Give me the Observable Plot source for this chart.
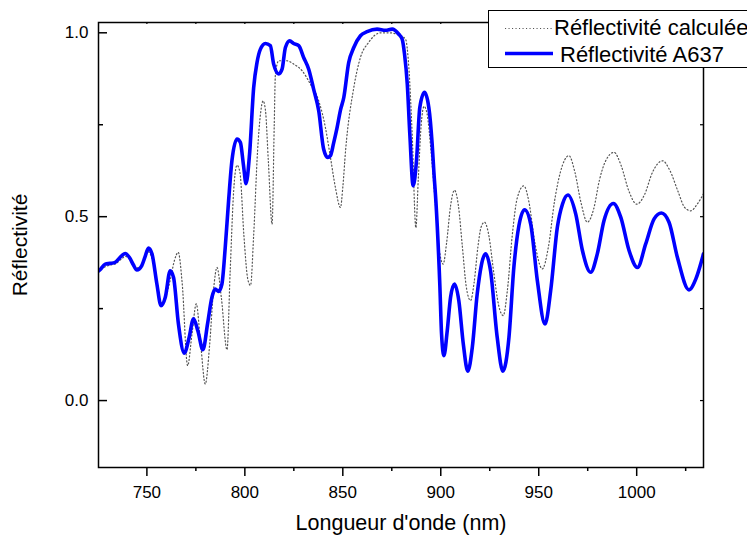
<!DOCTYPE html>
<html><head><meta charset="utf-8">
<script src="https://cdn.jsdelivr.net/npm/d3@7"></script>
<script src="https://cdn.jsdelivr.net/npm/@observablehq/plot@0.6"></script>
<style>
html,body{margin:0;padding:0;background:#fff;overflow:hidden;width:747px;height:537px}
#wrap{position:relative;width:747px;height:537px}
#legend{position:absolute;left:488px;top:10px;width:290px;height:56px;border:1px solid #000;background:#fff;}
g[aria-label="x-axis label"]{font-size:21.5px}
g[aria-label="y-axis label"]{font-size:21px}
</style></head><body><div id="wrap"><div id="chart"></div><div id="legend"></div></div>
<script>
// Measured reflectivity (A637)
const wavelengthA637 = [725.3,726,728.7,731.2,733.8,737.2,738.9,741.1,743,744.9,747.4,749,750.8,752.6,755.1,757.2,759.4,761.9,763.6,766.1,769.1,771.5,773.8,776,778.6,781,783.2,784.9,786.6,788.3,790,791.7,793.4,796,797.7,799.3,800.6,802.4,804.5,806.2,807.9,810.5,813,814.7,817.3,819,820.7,822.9,824.9,827.5,830,832.6,835.1,837.7,840.2,842.3,843.7,845.3,847,848.8,850.5,853,855.6,859,862.4,867.5,871.8,875.2,878.6,880.3,881.5,882.9,884.2,885.9,887.6,889.3,891.7,893.9,895.6,896.5,897.5,899.5,900.4,901.6,903.3,905,907,909.2,911.5,913.8,916.1,918.6,922.9,925.4,928.8,931.7,934.8,937.3,939.9,942.8,945.9,949.3,953.2,956.1,959.5,962.1,964.9,968.9,972.3,976.5,979.9,983.3,988.1,991.9,996.1,1000.4,1004.6,1008.9,1012.6,1016.5,1020.8,1026.7,1030.2,1034.1];
const reflA637 = [0.352,0.355,0.371,0.373,0.376,0.394,0.400,0.389,0.370,0.355,0.367,0.390,0.415,0.399,0.317,0.258,0.281,0.353,0.335,0.208,0.129,0.170,0.222,0.190,0.138,0.210,0.281,0.303,0.297,0.317,0.417,0.543,0.652,0.711,0.702,0.640,0.590,0.670,0.851,0.919,0.955,0.971,0.965,0.915,0.888,0.901,0.960,0.978,0.971,0.965,0.933,0.901,0.847,0.788,0.684,0.661,0.666,0.700,0.740,0.790,0.824,0.919,0.960,0.992,1.003,1.010,1.007,1.010,0.996,0.983,0.942,0.861,0.725,0.584,0.652,0.797,0.838,0.797,0.698,0.620,0.543,0.317,0.181,0.122,0.190,0.281,0.317,0.272,0.154,0.080,0.145,0.290,0.399,0.353,0.172,0.080,0.172,0.362,0.476,0.519,0.480,0.326,0.208,0.299,0.471,0.534,0.559,0.507,0.408,0.349,0.399,0.489,0.536,0.498,0.408,0.362,0.426,0.494,0.510,0.485,0.389,0.301,0.331,0.399];

// Calculated reflectivity
const wavelengthCalc = [725.3,728,731,734,737,739,741,744,747,750.5,753,755.5,757.5,759.5,762,764,766,768,770.8,773,775.2,777.5,779.8,782,784,785.8,788,790.9,792.5,794.3,796,797.5,799.5,801.5,802.9,804.5,806.5,808,809.3,810.5,812,813.9,815,815.6,817.3,821.5,824.9,829.2,833.4,837.7,841.1,843.7,846.2,848.8,850,851.4,855.6,859,863.2,869.2,873.5,877.7,882,883.7,885.4,887.3,888.5,890,891.5,893,895,897,899,901.2,903,905,907,909,911,913,915.2,917,919,920.5,922.3,924.5,927,929.5,931.9,934,936.5,939,942.4,945,948,951.8,955,958,961,965.4,968.5,971.5,974.8,978,981,984,988.4,992,996,1000,1004,1008,1013.2,1017,1021,1024.5,1027.6,1031,1034.1];
const reflCalc = [0.352,0.362,0.368,0.372,0.385,0.392,0.385,0.360,0.365,0.405,0.380,0.310,0.265,0.280,0.330,0.380,0.403,0.320,0.095,0.180,0.263,0.150,0.045,0.150,0.300,0.362,0.280,0.138,0.350,0.571,0.640,0.620,0.450,0.330,0.313,0.450,0.680,0.780,0.815,0.790,0.650,0.480,0.750,0.888,0.924,0.924,0.915,0.897,0.861,0.815,0.743,0.661,0.580,0.525,0.580,0.679,0.851,0.933,0.974,1.000,1.000,0.996,0.983,0.906,0.725,0.470,0.600,0.750,0.800,0.780,0.680,0.550,0.420,0.371,0.430,0.530,0.572,0.530,0.420,0.310,0.272,0.320,0.420,0.470,0.485,0.450,0.350,0.260,0.231,0.300,0.450,0.550,0.584,0.540,0.430,0.358,0.420,0.540,0.620,0.666,0.620,0.540,0.485,0.520,0.600,0.650,0.675,0.640,0.570,0.534,0.560,0.620,0.652,0.625,0.570,0.525,0.516,0.535,0.562];

const xMajorTicks = [750,800,850,900,950,1000];
const xMinorTicks = [775,825,875,925,975,1025];
const yMajorTicks = [0,0.5,1.0];
const yMinorTicks = [0.25,0.75];
const seriesNames = ["Réflectivité calculée","Réflectivité A637"];
const xTitle = "Longueur d'onde (nm)";
const yTitle = "Réflectivité";

const a637 = wavelengthA637.map((w,i)=>({w, r: reflA637[i]}));
const calc = wavelengthCalc.map((w,i)=>({w, r: reflCalc[i]}));

const W=747,H=537,mL=98,mR=44,mT=22,mB=70;
const fw=W-mL-mR, fh=H-mT-mB;
const font = "'Liberation Sans', Arial, sans-serif";
const dotStroke = "#555", dotWidth = 1.2, dotDash = "1.1,2.4";

const chart = Plot.plot({
  width: W, height: H,
  marginLeft: mL, marginRight: mR, marginTop: mT, marginBottom: mB,
  style: {fontFamily: font, background: "white", color: "black"},
  x: {domain: [725.3, 1034.1]},
  y: {domain: [-0.182, 1.028]},
  marks: [
    Plot.line(calc, {x: "w", y: "r", stroke: dotStroke, strokeWidth: dotWidth, strokeDasharray: dotDash, curve: "monotone-x", clip: true}),
    Plot.line(a637, {x: "w", y: "r", stroke: "#0000ff", strokeWidth: 3.6, curve: "monotone-x", clip: true}),
    Plot.frame({stroke: "black", strokeWidth: 1.5}),
    Plot.tickY(yMajorTicks, {y: d => d, insetRight: fw - 9, stroke: "black", strokeWidth: 1.5}),
    Plot.tickY(yMinorTicks, {y: d => d, insetRight: fw - 5, stroke: "black", strokeWidth: 1.5}),
    Plot.tickY(yMajorTicks.concat(yMinorTicks), {y: d => d, insetLeft: fw - 3, stroke: "black", strokeWidth: 1.2}),
    Plot.tickX(xMajorTicks.concat(xMinorTicks), {x: d => d, insetBottom: fh - 2, stroke: "black", strokeWidth: 1.2}),
    Plot.axisX(xMajorTicks, {tickSize: 9, tickPadding: 9, strokeWidth: 1.5, fontSize: 17, tickFormat: d3.format("d"), label: xTitle, labelAnchor: "center", labelArrow: "none", labelOffset: 62}),
    Plot.axisX(xMinorTicks, {tickSize: 4, strokeWidth: 1.5, tickFormat: () => "", label: null}),
    Plot.axisY(yMajorTicks, {tickSize: 0, tickPadding: 10, fontSize: 17, tickFormat: d3.format(".1f"), label: yTitle, labelAnchor: "center", labelArrow: "none", labelOffset: 86})
  ]
});
document.getElementById("chart").appendChild(chart);

// Legend overlay
const lg = d3.select("#legend").append("svg").attr("width", 290).attr("height", 56)
  .style("font-family", font).style("font-size", "22px");
const rows = [
  {name: seriesNames[0], stroke: dotStroke, sw: dotWidth, dash: dotDash, ly: 17.5, tx: 65, ty: 24},
  {name: seriesNames[1], stroke: "#0000ff", sw: 3.6, dash: null, ly: 42.5, tx: 71, ty: 51}
];
rows.forEach(r => {
  lg.append("line").attr("x1", 16).attr("x2", 64).attr("y1", r.ly).attr("y2", r.ly)
    .attr("stroke", r.stroke).attr("stroke-width", r.sw).attr("stroke-dasharray", r.dash);
  lg.append("text").attr("x", r.tx).attr("y", r.ty).text(r.name);
});
</script>
</body></html>
